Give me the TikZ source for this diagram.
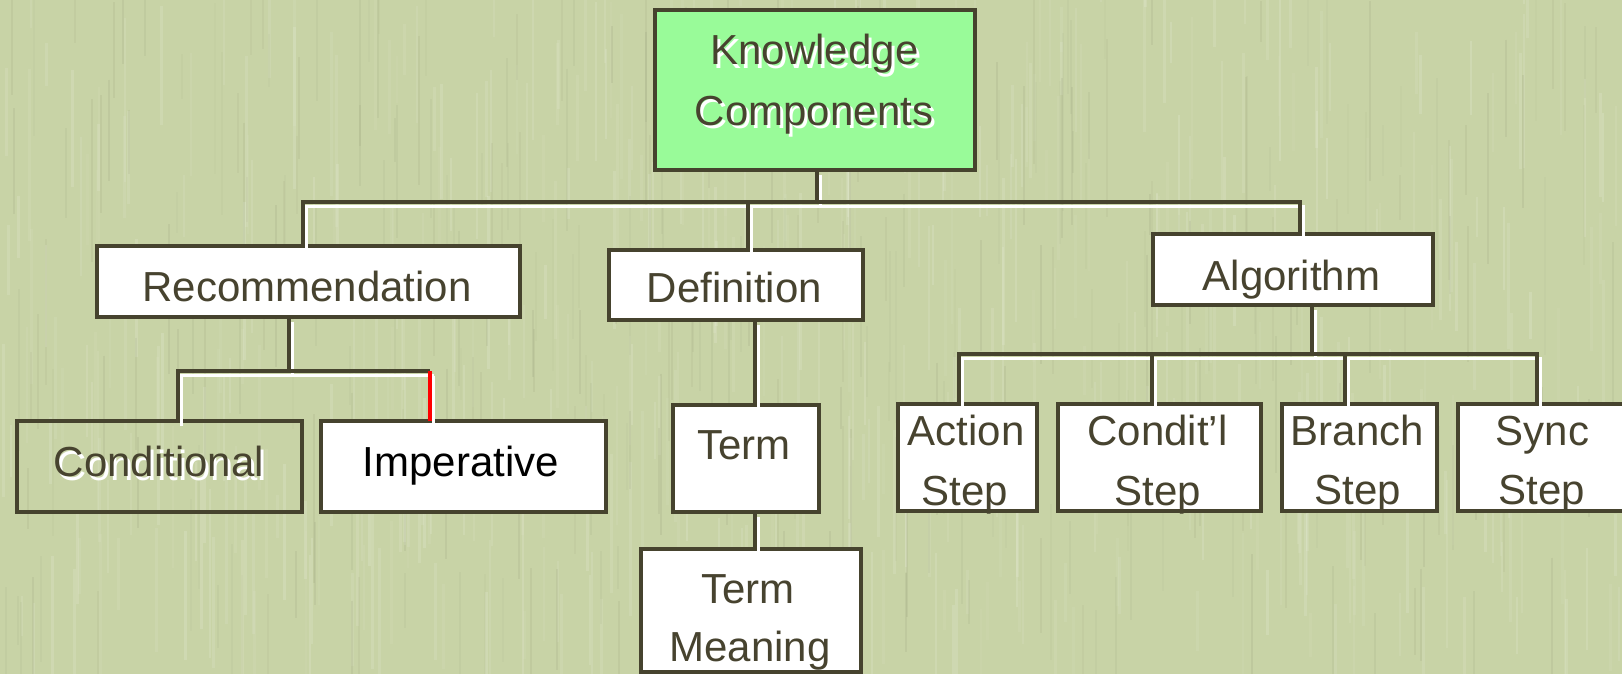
\documentclass[tikz,border=0pt]{standalone}
\usepackage{fontspec}
\setmainfont{Liberation Sans}
\definecolor{bg}{HTML}{C8D3A6}
\definecolor{edge}{HTML}{46432E}
\definecolor{ink}{HTML}{47432F}
\definecolor{kcgreen}{HTML}{99FB99}
\definecolor{redline}{HTML}{FF0000}
\newcommand{\kconn}[2][edge]{\draw[connshadow] #2; \draw[conn, draw=#1] #2;}
\newcommand{\shadowtext}[1]{\makebox[0pt][l]{\hspace*{3pt}\raisebox{-4pt}{\color{white}#1}}#1}
\begin{document}
\begin{tikzpicture}[x=1pt,y=-1pt,
  box/.style={draw=edge, line width=4pt, fill=white, inner sep=0pt, outer sep=0pt},
  txt/.style={font=\fontsize{42}{50}\selectfont, text=ink, inner sep=0pt, anchor=base},
  conn/.style={line width=4.5pt},
  connshadow/.style={draw=white, line width=2.5pt, transform canvas={xshift=3.5pt,yshift=-4.5pt}}]
\useasboundingbox (0,0) rectangle (1622,674);
\fill[bg] (0,0) rectangle (1622,674);
\clip (0,0) rectangle (1622,674);
% texture: soft vertical streaks
\pgfmathsetseed{7}
\foreach \i in {1,...,500}{
  \pgfmathsetmacro{\xa}{rnd*1622}
  \pgfmathsetmacro{\ya}{rnd*674-60}
  \pgfmathsetmacro{\len}{40+rnd*140}
  \pgfmathsetmacro{\op}{0.04+rnd*0.10}
  \draw[white, opacity=\op, line width=2.5pt] (\xa,\ya) -- ++(0,\len);
}
\foreach \i in {1,...,300}{
  \pgfmathsetmacro{\xa}{rnd*1622}
  \pgfmathsetmacro{\ya}{rnd*674-60}
  \pgfmathsetmacro{\len}{40+rnd*140}
  \pgfmathsetmacro{\op}{0.02+rnd*0.05}
  \draw[edge, opacity=\op, line width=2pt] (\xa,\ya) -- ++(0,\len);
}

% boxes
\node[box, fill=kcgreen, minimum width=320, minimum height=160] (kc) at (815,90) {};
\node[box, minimum width=423, minimum height=71] (rec) at (308.5,281.5) {};
\node[box, minimum width=254, minimum height=70] (def) at (736,285) {};
\node[box, minimum width=280, minimum height=71] (alg) at (1293,269.5) {};
\node[box, fill=none, minimum width=285, minimum height=91] (cond) at (159.5,466.5) {};
\node[box, minimum width=285, minimum height=91] (imp) at (463.5,466.5) {};
\node[box, minimum width=146, minimum height=107] (term) at (746,458.5) {};
\node[box, minimum width=220, minimum height=123] (tm) at (751,610.5) {};
\node[box, minimum width=139, minimum height=107] (act) at (967.5,457.5) {};
\node[box, minimum width=203, minimum height=107] (cst) at (1159.5,457.5) {};
\node[box, minimum width=155, minimum height=107] (br) at (1359.5,457.5) {};
\node[box, minimum width=171, minimum height=107] (sync) at (1543.5,457.5) {};

% junctions
\coordinate (j0) at (817,202);
\coordinate (j1) at (303,202);
\coordinate (j2) at (748,202);
\coordinate (j3) at (1300,202);
\coordinate (k0) at (289,371);
\coordinate (k1) at (178,371);
\coordinate (k2) at (430,371);
\coordinate (dx) at (755,360);
\coordinate (m0) at (1312,354);
\coordinate (m1) at (959,354);
\coordinate (m2) at (1152,354);
\coordinate (m3) at (1345,354);
\coordinate (m4) at (1537,354);

% connectors
\kconn{(kc.south -| j0) -- (j0)}
\kconn{(rec.north -| j1) -- (j1) -- (j3) -- (alg.north -| j3)}
\kconn{(j2) -- (def.north -| j2)}
\kconn{(rec.south -| k0) -- (k0)}
\kconn{(cond.north -| k1) -- (k1) -- (k2)}
\kconn[redline]{(k2) -- (imp.north -| k2)}
\kconn{(def.south -| dx) -- (term.north -| dx)}
\kconn{(term.south -| dx) -- (tm.north -| dx)}
\kconn{(alg.south -| m0) -- (m0)}
\kconn{(act.north -| m1) -- (m1) -- (m4) -- (sync.north -| m4)}
\kconn{(m2) -- (cst.north -| m2)}
\kconn{(m3) -- (br.north -| m3)}

% texts
\node[txt] (kc-t1) at (814.5,65) {\shadowtext{Knowledge}};
\node[txt] (kc-t2) at (814,125) {\shadowtext{Components}};
\node[txt] (rec-t) at (307,301) {Recommendation};
\node[txt] (def-t) at (734.5,302) {Definition};
\node[txt] (alg-t) at (1291.5,290) {Algorithm};
\node[txt] (cond-t) at (159,476) {\shadowtext{Conditional}};
\node[txt, text=black] (imp-t) at (461,476) {Imperative};
\node[txt] (term-t) at (744,459) {Term};
\node[txt] (tm-t1) at (748,603) {Term};
\node[txt] (tm-t2) at (750,661) {Meaning};
\node[txt] (act-t1) at (966,445) {Action};
\node[txt] (act-t2) at (965,505) {Step};
\node[txt] (cst-t1) at (1157.5,445) {Condit’l};
\node[txt] (cst-t2) at (1157.5,505) {Step};
\node[txt] (br-t1) at (1357.5,445) {Branch};
\node[txt] (br-t2) at (1357.5,504) {Step};
\node[txt] (sync-t1) at (1542.5,445) {Sync};
\node[txt] (sync-t2) at (1542,504) {Step};
\end{tikzpicture}
\end{document}
